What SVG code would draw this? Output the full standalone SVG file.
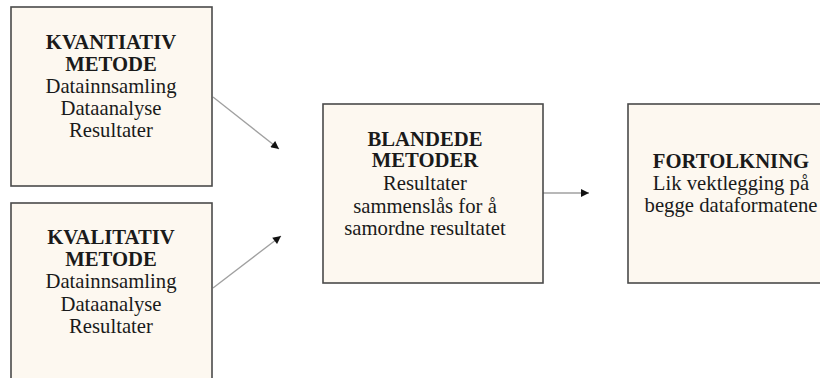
<svg xmlns="http://www.w3.org/2000/svg" width="820" height="378" viewBox="0 0 820 378">
  <style>
    .box { fill: #fdf8f0; stroke: #4a4a4a; stroke-width: 1.6; }
    .t { font-family: "Liberation Serif", "Times New Roman", serif; font-size: 20.7px; fill: #1a1a1a; text-anchor: middle; }
    .b { font-weight: bold; }
    .link { stroke: #a0a0a0; stroke-width: 1.3; fill: none; marker-end: url(#head); }
  </style>
  <defs>
    <marker id="head" viewBox="0 0 10 10" refX="10" refY="5" markerUnits="userSpaceOnUse" markerWidth="10" markerHeight="8" orient="auto">
      <path d="M0,0 L10,5 L0,10 Z" fill="#111"/>
    </marker>
  </defs>
  <rect width="820" height="378" fill="#ffffff"/>

  <g id="connectors">
    <line class="link" x1="213" y1="97" x2="279" y2="149"/>
    <line class="link" x1="213" y1="288" x2="281" y2="236"/>
    <line class="link" x1="543" y1="193" x2="589" y2="193"/>
  </g>

  <g id="kvantitativ">
    <rect class="box" x="11" y="7" width="201" height="179"/>
    <text class="t b" x="111" y="49">KVANTIATIV</text>
    <text class="t b" x="111" y="71">METODE</text>
    <text class="t" x="111" y="93">Datainnsamling</text>
    <text class="t" x="111" y="115">Dataanalyse</text>
    <text class="t" x="111" y="137">Resultater</text>
  </g>

  <g id="kvalitativ">
    <rect class="box" x="11" y="203" width="201" height="190"/>
    <text class="t b" x="111" y="244">KVALITATIV</text>
    <text class="t b" x="111" y="266">METODE</text>
    <text class="t" x="111" y="288">Datainnsamling</text>
    <text class="t" x="111" y="311">Dataanalyse</text>
    <text class="t" x="111" y="333">Resultater</text>
  </g>

  <g id="blandede">
    <rect class="box" x="323" y="104" width="220" height="179"/>
    <text class="t b" x="425" y="146">BLANDEDE</text>
    <text class="t b" x="425" y="167">METODER</text>
    <text class="t" x="425" y="190">Resultater</text>
    <text class="t" x="425" y="213">sammenslås for å</text>
    <text class="t" x="425" y="235">samordne resultatet</text>
  </g>

  <g id="fortolkning">
    <rect class="box" x="628" y="104" width="210" height="179"/>
    <text class="t b" x="731" y="168">FORTOLKNING</text>
    <text class="t" x="731" y="190">Lik vektlegging på</text>
    <text class="t" x="731" y="212">begge dataformatene</text>
  </g>
</svg>
